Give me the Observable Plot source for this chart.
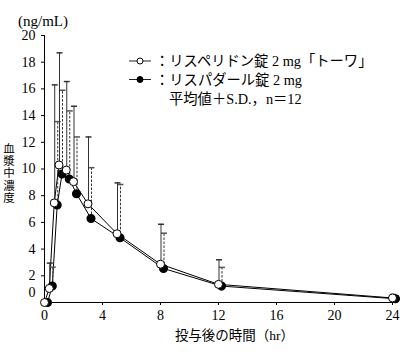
<!DOCTYPE html>
<html><head><meta charset="utf-8">
<script src="https://cdn.jsdelivr.net/npm/d3@7"></script>
<script src="https://cdn.jsdelivr.net/npm/@observablehq/plot@0.6"></script>
<style>body{margin:0;background:#fff} #chart{width:400px;height:354px}</style>
</head><body><div id="chart"></div>
<script>
const times = [0, 0.33, 0.67, 1, 1.5, 2, 3, 5, 8, 12, 24];
const toowaMean = [0, 1.05, 7.46, 10.3, 9.92, 9.05, 7.39, 5.15, 2.87, 1.36, 0.34];
const toowaSD = [0, 1.9, 8.84, 8.4, 6.63, 5.65, 5.01, 3.81, 2.99, 1.84, 0.26];
const risperdalMean = [0, 1.23, 7.31, 9.62, 9.25, 8.15, 6.29, 4.85, 2.55, 1.23, 0.28];
const risperdalSD = [0, 1.42, 6.24, 6.28, 5.1, 4.25, 3.81, 3.99, 2.64, 1.4, 0.22];
const xTicks = [0, 4, 8, 12, 16, 20, 24];
const yTicks = [0, 2, 4, 6, 8, 10, 12, 14, 16, 18, 20];
const legendLabels = ["：リスペリドン錠 2 mg「トーワ」", "：リスパダール錠 2 mg", "平均値＋S.D.，n＝12"];
const yUnit = "(ng/mL)";
const yLabel = "血漿中濃度";
const xLabel = "投与後の時間（hr）";

const FONT = "'Liberation Serif', 'Noto Sans CJK JP', serif";
const toowa = times.map((t, i) => ({t, mean: toowaMean[i], top: toowaMean[i] + toowaSD[i], sd: toowaSD[i]}));
const risp = times.map((t, i) => ({t, mean: risperdalMean[i], top: risperdalMean[i] + risperdalSD[i], sd: risperdalSD[i]}));

const capSymbol = {draw(ctx, size) { const r = Math.sqrt(size / Math.PI); ctx.moveTo(-r, 0); ctx.lineTo(r, 0); }};

function legendMark() {
  const g = d3.create("svg:g").attr("font-family", FONT).attr("font-size", 14.3).attr("fill", "black").attr("text-anchor", "start");
  const rows = [{y: 61, fill: "white"}, {y: 79.5, fill: "black"}];
  rows.forEach((r, i) => {
    g.append("line").attr("x1", 129).attr("x2", 151).attr("y1", r.y).attr("y2", r.y).attr("stroke", "#222");
    g.append("circle").attr("cx", 140).attr("cy", r.y).attr("r", 3).attr("fill", r.fill).attr("stroke", "black");
    g.append("text").attr("x", 155).attr("y", r.y).attr("dy", "0.36em").text(legendLabels[i]);
  });
  g.append("text").attr("x", 169).attr("y", 98.5).attr("dy", "0.36em").text(legendLabels[2]);
  return g.node();
}

function yLabelMark() {
  const g = d3.create("svg:g").attr("font-family", FONT).attr("font-size", 11.5).attr("fill", "black");
  g.append("text").attr("x", 8).attr("y", 142.5)
    .attr("text-anchor", "start")
    .style("writing-mode", "vertical-rl").style("text-orientation", "upright").style("letter-spacing", "0.8px")
    .text(yLabel);
  return g.node();
}

const DX = 3;
const chart = Plot.plot({
  width: 400, height: 354,
  marginLeft: 44, marginRight: 8, marginTop: 35, marginBottom: 52,
  style: {fontFamily: FONT, fontSize: "14px", background: "white", color: "black"},
  x: {domain: [0, 24]},
  y: {domain: [0, 20]},
  marks: [
    Plot.axisX({ticks: xTicks, tickSize: 3, tickPadding: 5, fontSize: 14, label: null}),
    Plot.axisY({ticks: yTicks.filter(d => d > 0), tickSize: 3, tickPadding: 6, fontSize: 14, label: null}),
    Plot.axisY({ticks: yTicks.filter(d => d === 0), tickSize: 0, tickPadding: 9, dy: -9.5, fontSize: 14, label: null}),
    Plot.ruleY([0], {stroke: "black"}),
    Plot.ruleX([0], {stroke: "black"}),
    Plot.line(risp, {x: "t", y: "mean", dx: DX, stroke: "black", strokeWidth: 1}),
    Plot.line(toowa, {x: "t", y: "mean", stroke: "black", strokeWidth: 1}),
    Plot.ruleX(risp.filter(d => d.sd > 0), {x: "t", y1: "mean", y2: "top", dx: DX + 0.5, stroke: "#333", strokeDasharray: "2.5,1.5"}),
    Plot.dot(risp.filter(d => d.sd > 0), {x: "t", y: "top", dx: DX + 0.5, symbol: capSymbol, r: 3, stroke: "#555", fill: "none"}),
    Plot.ruleX(toowa.filter(d => d.sd > 0), {x: "t", y1: "mean", y2: "top", dx: 0.5, stroke: "#333"}),
    Plot.dot(toowa.filter(d => d.sd > 0), {x: "t", y: "top", dx: 0.5, symbol: capSymbol, r: 3, stroke: "#333", fill: "none"}),
    Plot.dot(risp, {x: "t", y: "mean", dx: DX, r: 3.8, fill: "black", stroke: "black"}),
    Plot.dot(toowa, {x: "t", y: "mean", r: 4, fill: "white", stroke: "black", strokeWidth: 1}),
    Plot.text([yUnit], {frameAnchor: "top-left", dx: -1.5, dy: -20, fontSize: 15, textAnchor: "middle"}),
    Plot.text([xLabel], {frameAnchor: "bottom", dx: 16, dy: 37, fontSize: 13.5, textAnchor: "middle"}),
    yLabelMark,
    legendMark
  ]
});
document.getElementById("chart").append(chart);
</script>
</body></html>
